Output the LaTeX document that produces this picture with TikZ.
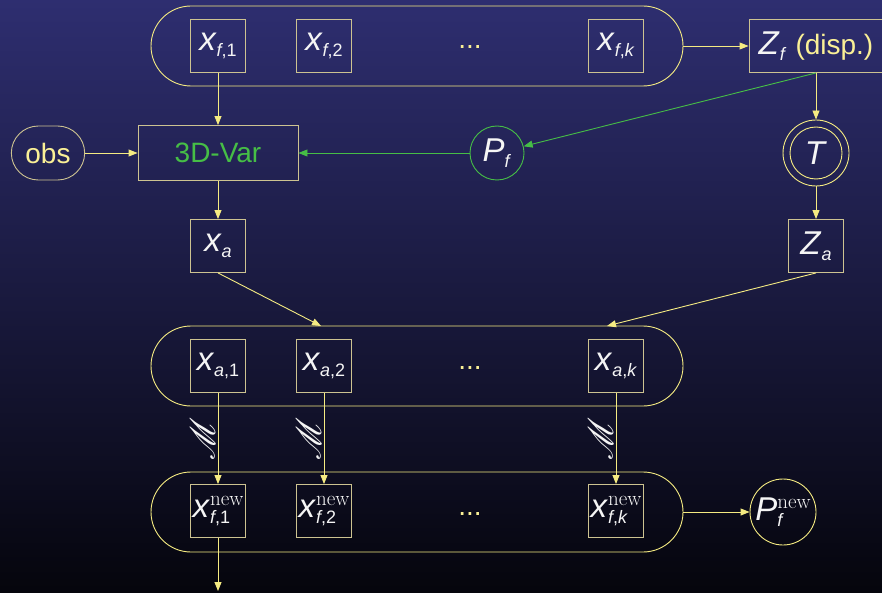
\documentclass[tikz,border=0pt]{standalone}
\usepackage{fontspec}
\usepackage{mathrsfs}
\usepackage{graphicx}
\newfontfamily\hv{Liberation Sans}
\usetikzlibrary{arrows.meta,shapes.misc}

\definecolor{bgtop}{RGB}{46,46,112}
\definecolor{bgmid}{RGB}{26,26,70}
\definecolor{bgbot}{RGB}{5,5,12}
\definecolor{lnyel}{RGB}{245,235,130}
\definecolor{bxyel}{RGB}{205,195,145}
\definecolor{txyel}{RGB}{250,240,150}
\definecolor{grn}{RGB}{70,190,70}
\definecolor{mwhite}{RGB}{245,245,245}

% fonts for symbols and plain text
\newcommand\mfont{\hv\fontsize{33}{36}\selectfont}
\newcommand\tfont{\hv\fontsize{28}{32}\selectfont}
\newcommand\mi[1]{\textit{#1}}
% lowered index, and index with a raised upper label
\newcommand\lo[1]{\raisebox{-6pt}{\fontsize{18}{18}\selectfont #1}}
\newcommand\hilo[2]{\rlap{\lo{#2}}\raisebox{12pt}{\rmfamily\fontsize{21}{21}\selectfont #1}}
% model operator symbol, turned upright along the arrow
\newcommand\modop{\scalebox{1.4}{\rotatebox{90}{$\mathscr{M}$}}}

\begin{document}
\begin{tikzpicture}[x=1pt,y=-1pt,
  box/.style={draw=bxyel, line width=0.9pt, minimum width=55pt, minimum height=53pt,
    inner sep=0pt, text=mwhite, font=\mfont},
  capsule/.style={draw=lnyel, line width=0.9pt, rounded rectangle,
    minimum width=532pt, minimum height=80pt, inner sep=0pt},
  dotsnode/.style={text=txyel, font=\tfont, anchor=base, inner sep=0pt},
  ring/.style={circle, draw=lnyel, line width=0.9pt, inner sep=0pt, text=mwhite, font=\mfont},
  conn/.style={draw=lnyel, line width=0.9pt, -{Triangle[length=9pt,width=7pt]}, color=lnyel},
  gconn/.style={conn, color=grn, draw=grn},
  mlabel/.style={midway, left=3pt, text=mwhite, font=\fontsize{24}{24}\selectfont, inner sep=0pt}]

% background
\shade[top color=bgtop, middle color=bgmid, bottom color=bgbot] (0,0) rectangle (882,593);
\useasboundingbox (0,0) rectangle (882,593);

% forecast ensemble
\node[capsule] (capf) at (417,46) {};
\node[box] (xf1) at (218,46) {\mi{x}\lo{\mi{f},1}};
\node[box] (xf2) at (324,46) {\mi{x}\lo{\mi{f},2}};
\node[dotsnode] (df) at (470,49) {...};
\node[box] (xfk) at (616,46) {\mi{x}\lo{\mi{f},\mi{k}}};

\node[box, minimum width=134pt] (zf) at (816,46) {\mi{Z}\lo{\mi{f}}\ {\tfont\color{txyel}(disp.)}};
\node[ring, minimum size=66pt] (T) at (816,153) {};
\node[ring, minimum size=52pt] (Tin) at (T.center) {\mi{T}};
\node[box] (za) at (816,246) {\mi{Z}\lo{\mi{a}}};

% analysis step
\node[rounded rectangle, draw=bxyel, line width=0.9pt, minimum width=80pt, minimum height=54pt,
  text=txyel, font=\tfont] (obs) at (48,153) {obs};
\node[box, minimum width=160pt, minimum height=55pt, text=grn, font=\tfont] (var) at (218,153) {3D-Var};
\node[circle, draw=grn, line width=0.9pt, minimum size=54pt, inner sep=0pt, text=mwhite, font=\mfont]
  (pf) at (497,153) {\mi{P}\lo{\mi{f}}};
\node[box] (xa) at (218,246) {\mi{x}\lo{\mi{a}}};

% analysis ensemble
\node[capsule] (capa) at (417,366) {};
\node[box] (xa1) at (218,366) {\mi{x}\lo{\mi{a},1}};
\node[box] (xa2) at (324,366) {\mi{x}\lo{\mi{a},2}};
\node[dotsnode] (da) at (470,369) {...};
\node[box] (xak) at (616,366) {\mi{x}\lo{\mi{a},\mi{k}}};

% new forecast ensemble
\node[capsule] (capn) at (417,512) {};
\node[box] (xn1) at (218,511) {\mi{x}\hilo{new}{\mi{f},1}};
\node[box] (xn2) at (324,511) {\mi{x}\hilo{new}{\mi{f},2}};
\node[dotsnode] (dn) at (470,515) {...};
\node[box] (xnk) at (616,511) {\mi{x}\hilo{new}{\mi{f},\mi{k}}};
\node[ring, minimum size=66pt] (pnew) at (783,512) {\mi{P}\hilo{new}{\mi{f}}};

\coordinate (ain1) at (321,326);
\coordinate (ain2) at (607,326);
\coordinate (out) at (218,591);

% connectors
\draw[conn] (capf.east) -- (zf.west);
\draw[conn] (zf.south) -- (T.north);
\draw[conn] (T.south) -- (za.north);
\draw[conn] (obs.east) -- (var.west);
\draw[conn] (xf1.south) -- (var.north);
\draw[conn] (var.south) -- (xa.north);
\draw[gconn] (pf.west) -- (var.east);
\draw[gconn] (zf.south) -- (pf);
\draw[conn] (xa.south) -- (ain1);
\draw[conn] (za.south) -- (ain2);
\draw[conn] (xa1.south) -- node[mlabel] {\modop} (xn1.north);
\draw[conn] (xa2.south) -- node[mlabel] {\modop} (xn2.north);
\draw[conn] (xak.south) -- node[mlabel] {\modop} (xnk.north);
\draw[conn] (capn.east) -- (pnew.west);
\draw[conn] (xn1.south) -- (out);
\end{tikzpicture}
\end{document}
